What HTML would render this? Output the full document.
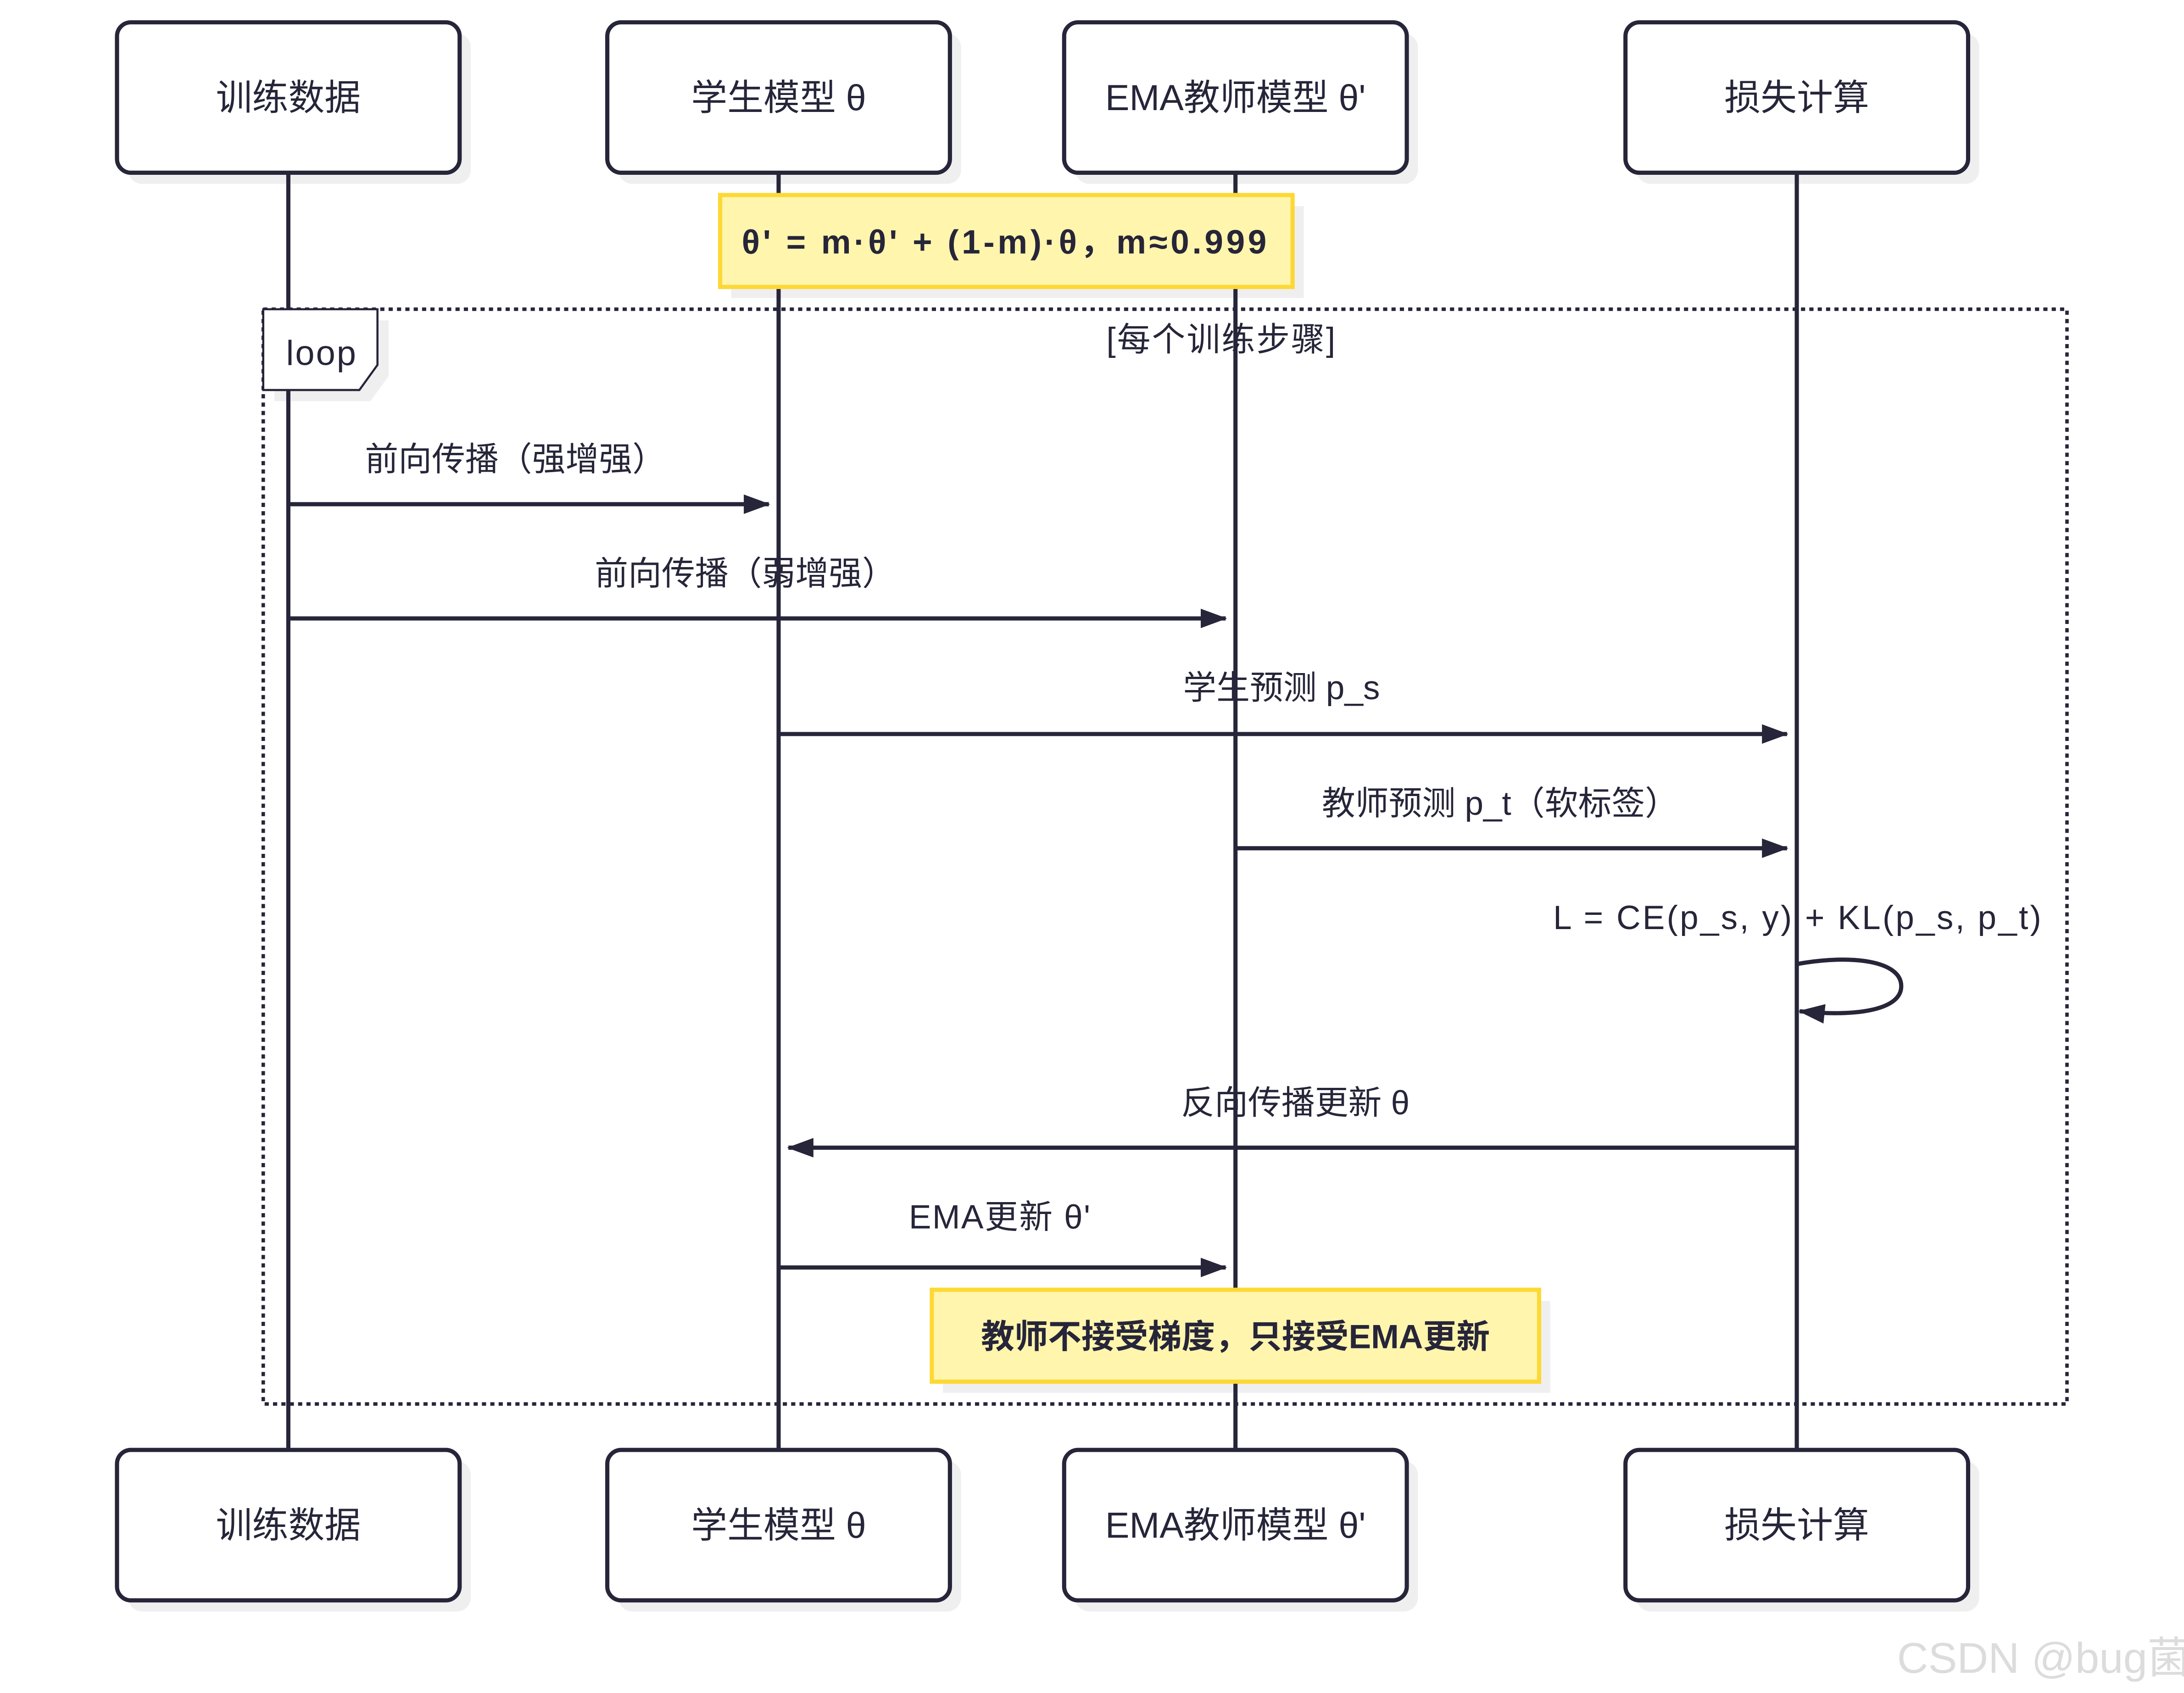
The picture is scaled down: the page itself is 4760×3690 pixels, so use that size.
<!DOCTYPE html>
<html><head><meta charset="utf-8"><style>
html,body{margin:0;padding:0;background:#fff;}
svg{display:block;}
text{font-family:"Liberation Sans","Noto Sans CJK SC",sans-serif;fill:#262539;}
</style></head><body>
<svg width="4760" height="3690" viewBox="0 0 1568 1215.5" xmlns="http://www.w3.org/2000/svg">
<defs>
<marker id="ah" markerWidth="20" markerHeight="14" refX="18" refY="7" orient="auto" markerUnits="userSpaceOnUse">
<path d="M0,0 L19,7 L0,14 Z" fill="#262539"/></marker>
</defs>
<g fill="#efefef">
<rect x="92" y="24" width="246" height="108" rx="10"/><rect x="444" y="24" width="246" height="108" rx="10"/>
<rect x="772" y="24" width="246" height="108" rx="10"/><rect x="1175" y="24" width="246" height="108" rx="10"/>
<rect x="92" y="1049" width="246" height="108" rx="10"/><rect x="444" y="1049" width="246" height="108" rx="10"/>
<rect x="772" y="1049" width="246" height="108" rx="10"/><rect x="1175" y="1049" width="246" height="108" rx="10"/>
<rect x="525" y="148" width="411" height="66"/><rect x="677" y="934" width="436" height="66"/>
<path d="M197,230 H279 V270 L266,288 H197 Z"/>
</g>
<g stroke="#262539" stroke-width="3">
<line x1="207" y1="124" x2="207" y2="1041"/><line x1="559" y1="124" x2="559" y2="1041"/>
<line x1="887" y1="124" x2="887" y2="1041"/><line x1="1290" y1="124" x2="1290" y2="1041"/>
</g>
<g fill="#fff" stroke="#262539" stroke-width="3">
<rect x="84" y="16" width="246" height="108" rx="10"/><rect x="436" y="16" width="246" height="108" rx="10"/>
<rect x="764" y="16" width="246" height="108" rx="10"/><rect x="1167" y="16" width="246" height="108" rx="10"/>
<rect x="84" y="1041" width="246" height="108" rx="10"/><rect x="436" y="1041" width="246" height="108" rx="10"/>
<rect x="764" y="1041" width="246" height="108" rx="10"/><rect x="1167" y="1041" width="246" height="108" rx="10"/>
</g>
<g font-size="26" text-anchor="middle">
<text x="207" y="79">训练数据</text><text x="559" y="79">学生模型 θ</text>
<text x="887" y="79">EMA教师模型 θ'</text><text x="1290" y="79">损失计算</text>
<text x="207" y="1104">训练数据</text><text x="559" y="1104">学生模型 θ</text>
<text x="887" y="1104">EMA教师模型 θ'</text><text x="1290" y="1104">损失计算</text>
</g>
<rect x="517" y="140" width="411" height="66" fill="#fff5ad" stroke="#fdd835" stroke-width="3"/>
<text x="722" y="182" font-size="24" font-weight="bold" text-anchor="middle" letter-spacing="2.2">θ' = m·θ' + (1-m)·θ，m≈0.999</text>
<rect x="189" y="222" width="1295" height="786" fill="none" stroke="#262539" stroke-width="2.5" stroke-dasharray="3,3"/>
<path d="M189,222 H271 V262 L258,280 H189 Z" fill="#fff" stroke="#262539" stroke-width="1.5"/>
<text x="231" y="262" font-size="25" text-anchor="middle" letter-spacing="1">loop</text>
<text x="877" y="252" font-size="24" text-anchor="middle" letter-spacing="1">[每个训练步骤]</text>
<g stroke="#262539" stroke-width="3" fill="none" marker-end="url(#ah)">
<line x1="207" y1="362" x2="552" y2="362"/>
<line x1="207" y1="444" x2="880" y2="444"/>
<line x1="559" y1="527" x2="1283" y2="527"/>
<line x1="887" y1="609" x2="1283" y2="609"/>
<path d="M1291,692 C1330,685 1365,690 1365,708 C1365,726 1330,730 1292,726"/>
<line x1="1290" y1="824" x2="566" y2="824"/>
<line x1="559" y1="910" x2="880" y2="910"/>
</g>
<g font-size="24" text-anchor="middle">
<text x="370" y="338">前向传播（强增强）</text>
<text x="535" y="420">前向传播（弱增强）</text>
<text x="920" y="502">学生预测 p_s</text>
<text x="1077" y="585">教师预测 p_t（软标签）</text>
<text x="1291" y="667" letter-spacing="1.4">L = CE(p_s, y) + KL(p_s, p_t)</text>
<text x="930" y="800">反向传播更新 θ</text>
<text x="718" y="882" letter-spacing="0.8">EMA更新 θ'</text>
</g>
<rect x="669" y="926" width="436" height="66" fill="#fff5ad" stroke="#fdd835" stroke-width="3"/>
<text x="887" y="968" font-size="24" font-weight="bold" text-anchor="middle">教师不接受梯度，只接受EMA更新</text>
<text x="1362" y="1201" font-size="31" style="fill:#dcdcdc">CSDN @bug菌¹</text>
</svg>
</body></html>
